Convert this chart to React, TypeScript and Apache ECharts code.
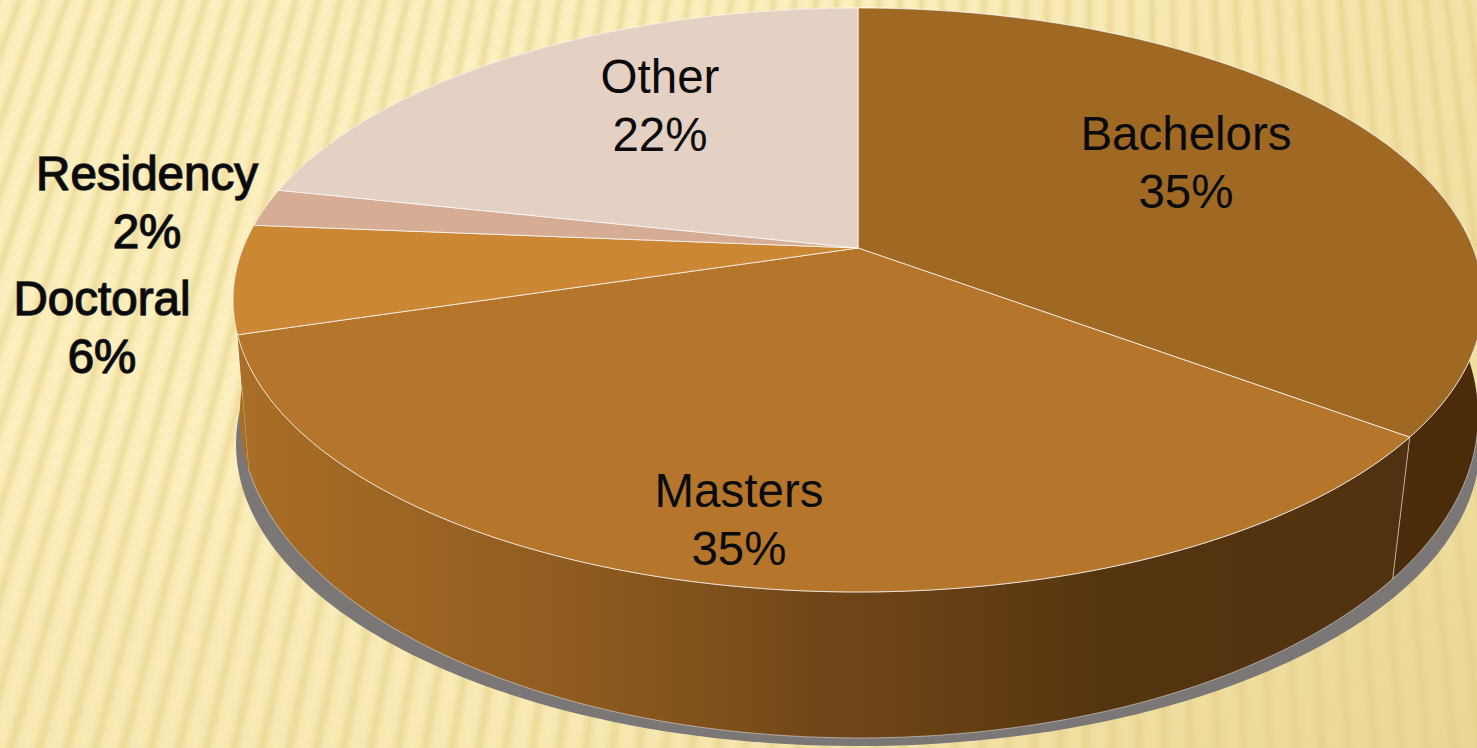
import React, { useEffect, useRef } from "react";
import * as echarts from "echarts";

const categories = ["Bachelors", "Masters", "Doctoral", "Residency", "Other"];
const values = [35.2, 35.1, 6.0, 2.1, 21.6];

const topColors = ["#9f6823", "#b5762c", "#cb8734", "#d6ac94", "#e5d0c4"];
const labelCenters = [
  [1186, 162],
  [739, 519],
  [102, 327],
  [147, 202],
  [660, 105],
];
const outlinedLabels = [false, false, true, true, false];

const W = 1477;
const H = 748;
const total = values.reduce((a, b) => a + b, 0);

type Proj = { x0: number; d: number; y0: number; a: number; c: number };
const topProj: Proj = { x0: 858, d: 615, y0: 248, a: 238.6, c: -0.178 };
const bottomProj: Proj = { x0: 859, d: 614, y0: 373, a: 269, c: -0.13 };

function project(p: Proj, theta: number): number[] {
  const u = Math.sin(theta);
  const v = -Math.cos(theta);
  const w = 1 + p.c * v;
  return [p.x0 + (p.d * u) / w, (p.y0 + p.a * v) / w];
}

function arc(p: Proj, t0: number, t1: number): number[][] {
  const n = Math.max(2, Math.ceil(((t1 - t0) * 180) / Math.PI));
  const pts: number[][] = [];
  for (let i = 0; i <= n; i++) pts.push(project(p, t0 + ((t1 - t0) * i) / n));
  return pts;
}

function sliceRange(index: number): [number, number] {
  let before = 0;
  for (let i = 0; i < index; i++) before += values[i];
  const k = (2 * Math.PI) / total;
  return [before * k, (before + values[index]) * k];
}

const mastersWall = new echarts.graphic.LinearGradient(
  240, 0, 1397, 0,
  [
    { offset: 0, color: "#a96e27" },
    { offset: 0.29, color: "#8f5b1f" },
    { offset: 0.51, color: "#704618" },
    { offset: 0.657, color: "#613c12" },
    { offset: 0.743, color: "#55350f" },
    { offset: 1, color: "#513210" },
  ],
  true
);
const wallFills: any[] = ["#4a2c0b", mastersWall, "#a96e27", "#a96e27", "#a96e27"];
const wallStrokes = ["rgba(255,255,255,0.45)", "rgba(255,255,255,0.45)", null, null, null];

const pageBackground = [
  "linear-gradient(115deg, rgba(226,204,130,0) 48%, rgba(226,204,130,0.6) 100%)",
  "linear-gradient(180deg, rgba(226,204,130,0) 60%, rgba(226,204,130,0.18) 100%)",
  "repeating-conic-gradient(from 0deg at 1100px -3000px, #fdf0c0 0deg, #fbedb9 0.1deg, #efdd9f 0.21deg, #fbedb9 0.32deg, #fdf0c0 0.4deg)",
].join(",");

export default function App() {
  const ref = useRef<HTMLDivElement>(null);

  useEffect(() => {
    const chart = echarts.init(ref.current!, null, { renderer: "svg", width: W, height: H });
    const seriesData = categories.map((name, i) => ({ name, value: values[i] }));
    chart.setOption({
      animation: false,
      backgroundColor: "transparent",
      graphic: [
        {
          type: "ellipse",
          z: 0,
          silent: true,
          shape: { cx: 858, cy: 444, rx: 622, ry: 302 },
          style: { fill: "#7b7777" },
        },
      ],
      series: [
        {
          type: "custom",
          name: "side",
          coordinateSystem: "none",
          z: 2,
          silent: true,
          data: seriesData,
          renderItem: (params: any) => {
            const i = params.dataIndex;
            const [t0, t1] = sliceRange(i);
            const upper = arc(topProj, t0, t1);
            const lower = arc(bottomProj, t0, t1).reverse();
            const stroke = wallStrokes[i];
            return {
              type: "polygon",
              shape: { points: upper.concat(lower) },
              style: stroke
                ? { fill: wallFills[i], stroke, lineWidth: 1 }
                : { fill: wallFills[i] },
            };
          },
        },
        {
          type: "custom",
          name: "top",
          coordinateSystem: "none",
          z: 3,
          silent: true,
          data: seriesData,
          renderItem: (params: any) => {
            const [t0, t1] = sliceRange(params.dataIndex);
            const pts = [[topProj.x0, topProj.y0]].concat(arc(topProj, t0, t1));
            return {
              type: "polygon",
              shape: { points: pts },
              style: {
                fill: topColors[params.dataIndex],
                stroke: "rgba(255,255,255,0.75)",
                lineWidth: 1,
              },
            };
          },
        },
        {
          type: "custom",
          name: "labels",
          coordinateSystem: "none",
          z: 4,
          silent: true,
          data: seriesData,
          renderItem: (params: any, api: any) => {
            const i = params.dataIndex;
            return {
              type: "text",
              style: {
                x: labelCenters[i][0],
                y: labelCenters[i][1],
                text: `${categories[i]}\n${Math.round(api.value(0))}%`,
                fontFamily: "Liberation Sans",
                fontSize: 47.5,
                lineHeight: 58,
                align: "center",
                verticalAlign: "middle",
                fill: "#0a0a0a",
                ...(outlinedLabels[i] ? { stroke: "#333333", lineWidth: 1.5 } : {}),
              },
            };
          },
        },
      ],
    });
    return () => chart.dispose();
  }, []);

  return (
    <div
      ref={ref}
      style={{
        position: "fixed",
        left: 0,
        top: 0,
        width: W,
        height: H,
        overflow: "hidden",
        background: pageBackground,
      }}
    />
  );
}
